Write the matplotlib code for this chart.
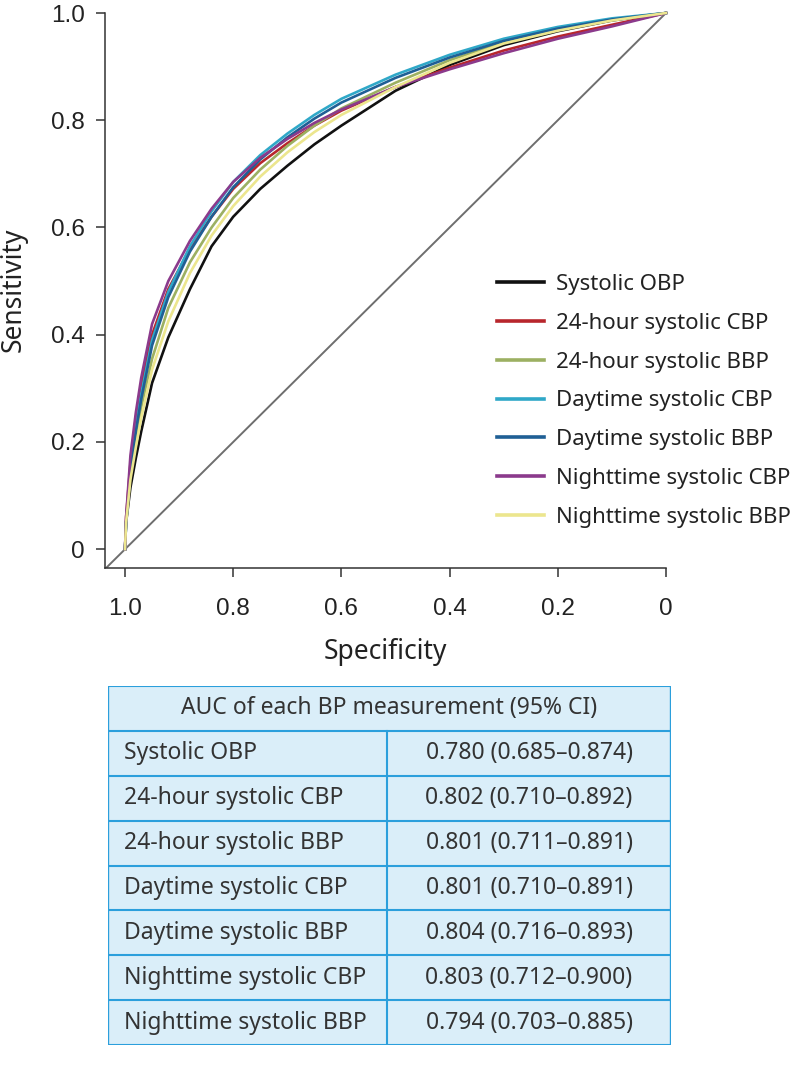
import numpy as np
import matplotlib.pyplot as plt
from matplotlib.patches import Rectangle

# datos
spec = [1.0, 0.998, 0.99, 0.98, 0.97, 0.95, 0.92, 0.88, 0.84, 0.80, 0.75, 0.70, 0.65, 0.60, 0.50, 0.40, 0.30, 0.20, 0.10, 0.0]

sens_obp = [0, 0.05, 0.115, 0.17, 0.22, 0.31, 0.395, 0.485, 0.565, 0.62, 0.672, 0.715, 0.755, 0.79, 0.855, 0.903, 0.94, 0.966, 0.986, 1.0]
sens_24_cbp = [0, 0.06, 0.16, 0.245, 0.305, 0.40, 0.485, 0.56, 0.62, 0.672, 0.72, 0.757, 0.79, 0.818, 0.862, 0.898, 0.93, 0.956, 0.978, 1.0]
sens_24_bbp = [0, 0.05, 0.14, 0.21, 0.265, 0.355, 0.45, 0.535, 0.60, 0.655, 0.708, 0.752, 0.79, 0.822, 0.87, 0.912, 0.945, 0.969, 0.987, 1.0]
sens_day_cbp = [0, 0.05, 0.15, 0.23, 0.29, 0.39, 0.48, 0.565, 0.63, 0.685, 0.735, 0.775, 0.81, 0.84, 0.885, 0.922, 0.952, 0.974, 0.99, 1.0]
sens_day_bbp = [0, 0.05, 0.145, 0.22, 0.28, 0.38, 0.47, 0.555, 0.62, 0.675, 0.727, 0.768, 0.803, 0.833, 0.879, 0.917, 0.948, 0.971, 0.988, 1.0]
sens_night_cbp = [0, 0.06, 0.175, 0.255, 0.32, 0.42, 0.50, 0.575, 0.635, 0.685, 0.73, 0.765, 0.795, 0.82, 0.862, 0.895, 0.925, 0.952, 0.975, 1.0]
sens_night_bbp = [0, 0.05, 0.13, 0.19, 0.245, 0.335, 0.425, 0.515, 0.585, 0.64, 0.695, 0.74, 0.778, 0.81, 0.862, 0.907, 0.943, 0.967, 0.986, 1.0]

nombres = ['Systolic OBP', '24-hour systolic CBP', '24-hour systolic BBP', 'Daytime systolic CBP',
           'Daytime systolic BBP', 'Nighttime systolic CBP', 'Nighttime systolic BBP']
curvas = [sens_obp, sens_24_cbp, sens_24_bbp, sens_day_cbp, sens_day_bbp, sens_night_cbp, sens_night_bbp]
colores = ['#111111', '#b8262c', '#9cb062', '#2fa8c8', '#1f5f95', '#8b3a8c', '#ece68e']

auc_txt = ['0.780 (0.685\u20130.874)', '0.802 (0.710\u20130.892)', '0.801 (0.711\u20130.891)', '0.801 (0.710\u20130.891)',
           '0.804 (0.716\u20130.893)', '0.803 (0.712\u20130.900)', '0.794 (0.703\u20130.885)']

ticks = [1.0, 0.8, 0.6, 0.4, 0.2, 0.0]
tick_lbl = ['1.0', '0.8', '0.6', '0.4', '0.2', '0']

fuente = 'Noto Sans'
W, H = 797, 1067

#################################################################################################################
fig = plt.figure(figsize=(W / 100, H / 100), dpi=100)
ax = fig.add_axes([105 / W, 1 - 568 / H, (666 - 105) / W, (568 - 13) / H])
ax.set_xlim(1.037, 0)
ax.set_ylim(-0.035, 1.0)

ax.axline((1, 0), (0, 1), color='#6e6e6e', lw=1.4, zorder=1)
for s, c, n in zip(curvas, colores, nombres):
    ax.plot(spec, s, color=c, lw=1.9, label=n, clip_on=False, zorder=3)

for lado in ['top', 'right']:
    ax.spines[lado].set_visible(False)
for lado in ['left', 'bottom']:
    ax.spines[lado].set_color('#333333')
    ax.spines[lado].set_linewidth(1.1)

ax.set_xticks(ticks)
ax.set_xticklabels(tick_lbl)
ax.set_yticks(ticks)
ax.set_yticklabels(tick_lbl)
ax.tick_params(axis='both', direction='out', length=6.5, width=1.1, color='#333333',
               labelsize=17.5, labelcolor='#222222')
ax.tick_params(axis='x', pad=15)
ax.tick_params(axis='y', pad=8)
for t in ax.get_xticklabels() + ax.get_yticklabels():
    t.set_fontfamily('Liberation Sans')

fig.text(385 / W, 1 - 652 / H, 'Specificity', ha='center', va='center', fontsize=19,
         family=fuente, color='#222222')
fig.text(14 / W, 1 - 290 / H, 'Sensitivity', ha='center', va='center', fontsize=19,
         family=fuente, color='#222222', rotation=90)

leg = fig.legend(loc='upper left', bbox_to_anchor=(497 / W, 1 - 274 / H), frameon=False,
                 borderpad=0, borderaxespad=0, handlelength=2.1, handletextpad=0.55,
                 labelspacing=0.8, prop={'family': fuente, 'size': 16})
for l in leg.get_lines():
    l.set_linewidth(2.6)
for t in leg.get_texts():
    t.set_color('#222222')

#################################################################################################################
# tabla de AUC
x0, x1, y0, y1 = 108, 671, 686, 1045
tab = fig.add_axes([x0 / W, 1 - y1 / H, (x1 - x0) / W, (y1 - y0) / H])
tab.set_xlim(0, x1 - x0)
tab.set_ylim(y1 - y0, 0)
tab.axis('off')

fila = (y1 - y0) / 8
col = 387 - x0
azul = '#2b9fdc'
tab.add_patch(Rectangle((0, 0), x1 - x0, y1 - y0, facecolor='#daeef9', edgecolor='none'))
for i in range(9):
    tab.plot([0, x1 - x0], [i * fila, i * fila], color=azul, lw=1.5, solid_capstyle='butt')
tab.plot([0, 0], [0, y1 - y0], color=azul, lw=1.7)
tab.plot([x1 - x0, x1 - x0], [0, y1 - y0], color=azul, lw=1.7)
tab.plot([col, col], [fila, y1 - y0], color=azul, lw=1.5)

tab.text((x1 - x0) / 2, fila / 2, 'AUC of each BP measurement (95% CI)', ha='center', va='center',
         fontsize=16.5, family=fuente, color='#333333')
for i, (n, a) in enumerate(zip(nombres, auc_txt)):
    yc = (i + 1.5) * fila
    tab.text(16, yc, n, ha='left', va='center', fontsize=16.5, family=fuente, color='#333333')
    tab.text((col + x1 - x0) / 2, yc, a, ha='center', va='center', fontsize=16.5, family=fuente, color='#333333')

fig.savefig('out.png', dpi=100)
